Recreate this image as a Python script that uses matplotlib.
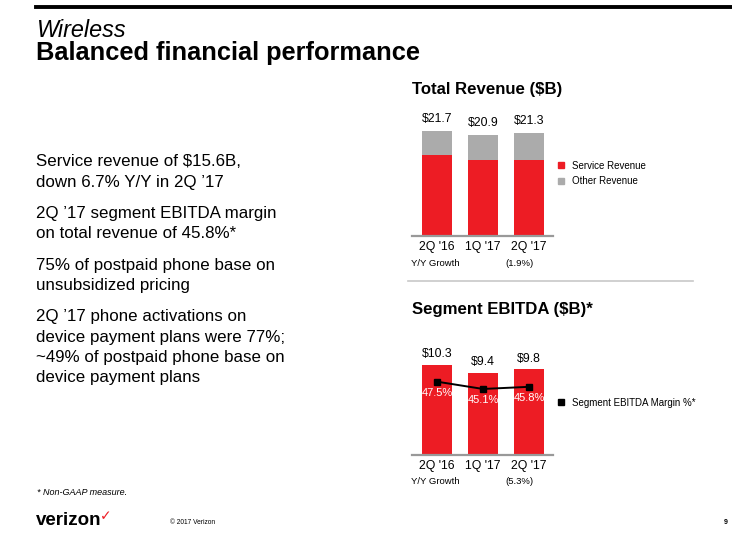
import matplotlib
matplotlib.use("Agg")
import matplotlib.pyplot as plt
from matplotlib.lines import Line2D
from matplotlib.patches import Patch
from matplotlib.transforms import blended_transform_factory

plt.rcParams['font.family'] = ['Liberation Sans', 'DejaVu Sans']

# data
quarters = ["2Q '16", "1Q '17", "2Q '17"]
total_rev = [21.7, 20.9, 21.3]
service_rev = [16.7, 15.6, 15.6]
other_rev = [t - s for t, s in zip(total_rev, service_rev)]
rev_labels = ["$21.7", "$20.9", "$21.3"]
rev_growth = "(1.9%)"

ebitda = [10.3, 9.4, 9.8]
ebitda_labels = ["$10.3", "$9.4", "$9.8"]
margin = [47.5, 45.1, 45.8]
margin_labels = ["47.5%", "45.1%", "45.8%"]
ebitda_growth = "(5.3%)"

bullets = [
    ["Service revenue of $15.6B,", "down 6.7% Y/Y in 2Q \u201917"],
    ["2Q \u201917 segment EBITDA margin", "on total revenue of 45.8%*"],
    ["75% of postpaid phone base on", "unsubsidized pricing"],
    ["2Q \u201917 phone activations on", "device payment plans were 77%;",
     "~49% of postpaid phone base on", "device payment plans"],
]

RED = "#ED1C24"
GREY = "#ABABAB"
W, H = 732, 534

fig = plt.figure(figsize=(W / 100, H / 100), dpi=100)


def px(x, y):
    # pixel (from top-left) -> figure fraction
    return x / W, 1 - y / H


def ax_rect(x0, x1, ybot, ytop):
    return [x0 / W, 1 - ybot / H, (x1 - x0) / W, (ybot - ytop) / H]


# header
fig.add_artist(Line2D([36 / W, 1], [1 - 7 / H] * 2, color="black", lw=2.8))
fig.text(*px(37, 36.7), "Wireless", fontsize=16.8, style="italic",
         va="baseline")
fig.text(*px(36, 60), "Balanced financial performance", fontsize=18.3,
         weight="bold", va="baseline")

# bullet text
y = 166.5
for para in bullets:
    for line in para:
        fig.text(*px(36, y), line, fontsize=12.2, va="baseline")
        y += 20.3
    y += 11

x = range(len(quarters))
bw = 0.66

# total revenue chart
ax1 = fig.add_axes(ax_rect(412, 553, 235.7, 235.7 - 23 * 4.84))
ax1.bar(x, service_rev, bw, color=RED)
ax1.bar(x, other_rev, bw, bottom=service_rev, color=GREY)
for i, (t, lab) in enumerate(zip(total_rev, rev_labels)):
    ax1.annotate(lab, (i, t), xytext=(0, 11.5), textcoords="offset pixels",
                 ha="center", va="center", fontsize=8.8)
ax1.set_xlim(-0.54, 2.52)
ax1.set_ylim(0, 23)

# ebitda chart
ax2 = fig.add_axes(ax_rect(412, 553, 455, 455 - 12 * 8.75))
ax2.bar(x, ebitda, bw, color=RED)
for i, (v, lab) in enumerate(zip(ebitda, ebitda_labels)):
    ax2.annotate(lab, (i, v), xytext=(0, 10.5), textcoords="offset pixels",
                 ha="center", va="center", fontsize=8.8)
ax2.set_xlim(-0.54, 2.52)
ax2.set_ylim(0, 12)

tw = ax2.twinx()
tw.plot(x, margin, color="black", lw=1.4, marker="s", markersize=4.5)
for i, (v, lab) in enumerate(zip(margin, margin_labels)):
    tw.annotate(lab, (i, v), xytext=(0, -11.5), textcoords="offset pixels",
                ha="center", va="center", fontsize=8, color="white")
tw.set_ylim(23.4, 57.9)
tw.axis("off")

for ax, growth in [(ax1, rev_growth), (ax2, ebitda_growth)]:
    for s in ["top", "left", "right"]:
        ax.spines[s].set_visible(False)
    ax.spines["bottom"].set_color("#999999")
    ax.spines["bottom"].set_linewidth(1.6)
    ax.set_yticks([])
    ax.set_xticks(list(x))
    ax.set_xticklabels(quarters, fontsize=8.8)
    ax.tick_params(axis="x", length=0, pad=3.5)
    tr = blended_transform_factory(ax.transData, ax.transAxes)
    ax.text(-0.03, -0.25, "Y/Y Growth", transform=tr, ha="center",
            va="center", fontsize=6.8)
    ax.text(1.8, -0.25, growth, transform=tr, ha="center", va="center",
            fontsize=6.8)

# titles
fig.text(*px(412, 94), "Total Revenue ($B)", fontsize=12.1, weight="bold",
         va="baseline")
fig.text(*px(412, 314), "Segment EBITDA ($B)*", fontsize=12.1, weight="bold",
         va="baseline")

# separator
fig.add_artist(Line2D([408 / W, 693 / W], [1 - 281 / H] * 2,
                      color="#c8c8c8", lw=1.2))

# legends
fig.legend(handles=[Patch(color=RED, label="Service Revenue"),
                    Patch(color=GREY, label="Other Revenue")],
           loc="center left", bbox_to_anchor=px(558, 173.5), frameon=False,
           fontsize=7, handlelength=0.6, handleheight=0.6,
           handletextpad=0.8, labelspacing=0.55, borderpad=0,
           borderaxespad=0)
fig.legend(handles=[Line2D([], [], color="black", marker="s", lw=0,
                           markersize=4, label="Segment EBITDA Margin %*")],
           loc="center left", bbox_to_anchor=px(558, 402.7), frameon=False,
           fontsize=7, handlelength=0.6, handletextpad=0.8, borderpad=0,
           borderaxespad=0)

# footer
fig.text(*px(37, 492.5), "* Non-GAAP measure.", fontsize=6.5,
         style="italic", va="center")
fig.text(*px(36, 525), "verizon", fontsize=13.5, weight="bold",
         va="baseline")
fig.text(*px(100, 516), "\u2713", fontsize=10, color=RED, va="center",
         family="DejaVu Sans")
fig.text(*px(170, 523), "\u00a9 2017 Verizon", fontsize=4.8, va="center")
fig.text(*px(726, 522), "9", fontsize=5, weight="bold", va="center",
         ha="center")

fig.savefig("out.png", dpi=100)
